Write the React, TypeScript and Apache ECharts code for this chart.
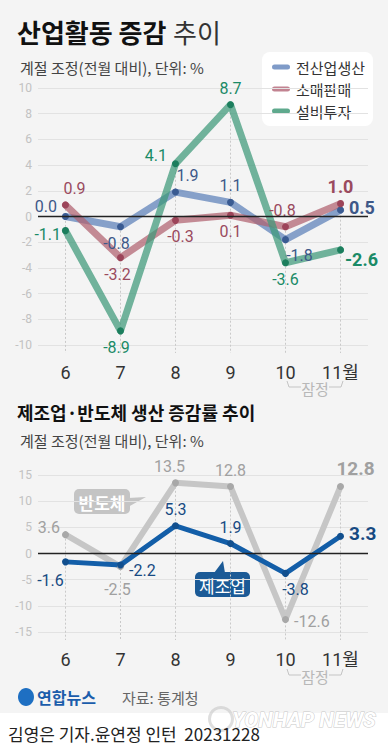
import React, { useEffect, useRef } from "react";
import * as echarts from "echarts";

const months = ["6", "7", "8", "9", "10", "11월"];
const industrial = [0.0, -0.8, 1.9, 1.1, -1.8, 0.5];
const retail = [0.9, -3.2, -0.3, 0.1, -0.8, 1.0];
const investment = [-1.1, -8.9, 4.1, 8.7, -3.6, -2.6];
const semiconductor = [3.6, -2.5, 13.5, 12.8, -12.6, 12.8];
const manufacturing = [-1.6, -2.2, 5.3, 1.9, -3.8, 3.3];
const seriesNames1 = ["전산업생산", "소매판매", "설비투자"];

// label placement styles
const indPos: any[] = [["left", [0, -10]], ["bottom", [-4, 0]], ["top", [12, 0]], ["top", [0, 0]], ["bottom", [14, -1]], ["right", [0, -3]]];
const retPos: any[] = [["top", [9, 0]], ["bottom", [-3, 0]], ["bottom", [5, 0]], ["bottom", [0, 0]], ["top", [-3, 0]], ["top", [0, 0]]];
const invPos: any[] = [["left", [4, 4]], ["bottom", [-4, 0]], ["left", [0, -8]], ["top", [0, 0]], ["bottom", [0, 0]], ["right", [-4, 10]]];
const semPos: any[] = [["left", [3, -7]], ["bottom", [-3, 6]], ["top", [-6, 0]], ["top", [0, 0]], ["right", [0, 2]], ["top", [15, 0]]];
const manPos: any[] = [["bottom", [-15, 2]], ["right", [0, 5]], ["top", [0, 0]], ["top", [0, 0]], ["bottom", [10, 0]], ["right", [0, -3]]];

const FONT = '"Noto Sans CJK KR", "Noto Sans", sans-serif';
const NUM = 'Roboto, "Noto Sans CJK KR", sans-serif';

function mkData(values: number[], pos: any[], color: string, lastSize = 18) {
  return values.map((v, i) => {
    const last = i === values.length - 1;
    return {
      value: v,
      label: {
        show: true,
        position: pos[i][0],
        offset: pos[i][1],
        formatter: () => v.toFixed(1),
        color,
        fontFamily: NUM,
        fontSize: last ? lastSize : 16,
        fontWeight: last ? "bold" : "normal",
      },
    };
  });
}

function lineSeries(name: string, values: number[], pos: any[], lineColor: string, dotColor: string, labelColor: string, idx: number, width: number, opacity: number, lastSize = 18) {
  return {
    type: "line",
    name,
    xAxisIndex: idx,
    yAxisIndex: idx,
    data: mkData(values, pos, labelColor, lastSize),
    symbol: "circle",
    symbolSize: 7,
    itemStyle: { color: dotColor },
    lineStyle: { color: lineColor, width, opacity, cap: "round", join: "round" },
    z: 3,
  };
}

function dropSeries(idx: number, lists: number[][], yMin: number) {
  const data = months.map((_, i) => [i, Math.max(...lists.map((l) => l[i]))]);
  return {
    type: "custom",
    xAxisIndex: idx,
    yAxisIndex: idx,
    silent: true,
    z: 1,
    encode: { x: 0, y: 1 },
    data,
    renderItem: (params: any, api: any) => {
      const top = api.coord([api.value(0), api.value(1)]);
      const bot = api.coord([api.value(0), yMin]);
      return {
        type: "line",
        shape: { x1: top[0], y1: top[1], x2: top[0], y2: bot[1] + 8 },
        style: { stroke: "#c9c9c9", lineWidth: 1, lineDash: [2, 2] },
      };
    },
    markLine: {
      silent: true,
      symbol: ["none", "none"],
      label: { show: false },
      lineStyle: { color: "#222", width: 1.3, type: "solid" },
      data: [{ yAxis: 0 }],
    },
  };
}

function xAxis(idx: number) {
  return {
    type: "category",
    gridIndex: idx,
    data: months,
    position: "bottom",
    axisLine: { show: false },
    axisTick: { show: false },
    axisLabel: { fontSize: 18, color: "#333", margin: 18, fontFamily: NUM },
    splitLine: { show: false },
  };
}

function yAxis(idx: number, min: number, max: number, interval: number) {
  return {
    type: "value",
    gridIndex: idx,
    min,
    max,
    interval,
    axisLine: { show: false },
    axisTick: { show: false },
    axisLabel: { fontSize: 12, color: "#c2c2c2", margin: 6, fontFamily: NUM },
    splitLine: { lineStyle: { color: "#e2e2e2", width: 1 } },
  };
}

function bracket(y: number) {
  return [
    { type: "polyline", shape: { points: [[287, y - 6], [289, y], [301, y]] }, style: { stroke: "#c4c4c4", lineWidth: 1, fill: null } },
    { type: "polyline", shape: { points: [[329, y], [341, y], [343, y - 6]] }, style: { stroke: "#c4c4c4", lineWidth: 1, fill: null } },
    { type: "text", x: 315, y: y + 1, style: { text: "잠정", fontSize: 15, fill: "#b8b8b8", fontFamily: FONT, align: "center", verticalAlign: "middle" } },
  ];
}

function txt(text: string, x: number, y: number, size: number, fill: string, extra: any = {}) {
  return { type: "text", x, y, style: { text, fontSize: size, fill, fontFamily: FONT, verticalAlign: "middle", align: "left", ...extra } };
}

export default function App() {
  const ref = useRef<HTMLDivElement>(null);
  useEffect(() => {
    const chart = echarts.init(ref.current!, null, { renderer: "svg" });
    const legendColors = ["#7f9bc8", "#c28391", "#5fa98d"];
    const legendItems: any[] = [];
    seriesNames1.forEach((n, i) => {
      legendItems.push({ type: "rect", shape: { x: 272, y: 64.5 + i * 22, width: 18, height: 5, r: 2.5 }, style: { fill: legendColors[i] } });
      legendItems.push(txt(n, 296, 67 + i * 22, 15, "#333"));
    });
    chart.setOption({
      animation: false,
      grid: [
        { left: 38, right: 20, top: 88, height: 257 },
        { left: 38, right: 20, top: 475, height: 157 },
      ],
      xAxis: [xAxis(0), xAxis(1)],
      yAxis: [yAxis(0, -10, 10, 2), yAxis(1, -15, 15, 5)],
      series: [
        dropSeries(0, [industrial, retail, investment], -10),
        lineSeries(seriesNames1[0], industrial, indPos, "#5b7fb8", "#3a5b92", "#3d5888", 0, 7, 0.72),
        lineSeries(seriesNames1[1], retail, retPos, "#b0616f", "#9c4459", "#9a4a5e", 0, 7, 0.72),
        lineSeries(seriesNames1[2], investment, invPos, "#3d9878", "#1c7e5d", "#1a8a66", 0, 7, 0.72),
        dropSeries(1, [semiconductor, manufacturing], -15),
        lineSeries("반도체", semiconductor, semPos, "#c6c6c6", "#a8a8a8", "#a0a0a0", 1, 6, 1, 19),
        lineSeries("제조업", manufacturing, manPos, "#135ea8", "#114f8e", "#174a82", 1, 5, 1, 19),
      ],
      graphic: [
        txt("산업활동 증감", 17, 31, 26, "#111", { fontWeight: "bold" }),
        txt("추이", 173, 31, 26, "#333"),
        txt("계절 조정(전월 대비), 단위: %", 20, 67, 15, "#444"),
        { type: "rect", shape: { x: 262, y: 52, width: 111, height: 74, r: 8 }, style: { fill: "#fff" } },
        ...legendItems,
        ...bracket(387),
        txt("제조업·반도체 생산 증감률 추이", 17, 412, 18, "#111", { fontWeight: "bold" }),
        txt("계절 조정(전월 대비), 단위: %", 20, 440, 15, "#444"),
        { type: "polygon", shape: { points: [[128, 498], [146, 497], [128, 507]] }, style: { fill: "#c4c4c4" } },
        { type: "rect", shape: { x: 74, y: 489, width: 56, height: 25, r: 5 }, style: { fill: "#c4c4c4" } },
        txt("반도체", 102, 502, 17, "#fff", { align: "center", fontWeight: "bold" }),
        { type: "polygon", shape: { points: [[214, 573], [225, 573], [223, 561]] }, style: { fill: "#1b5a96" } },
        { type: "rect", shape: { x: 195, y: 572, width: 55, height: 25, r: 5 }, style: { fill: "#1b5a96" } },
        txt("제조업", 222.5, 585, 17, "#fff", { align: "center" }),
        ...bracket(675),
        { type: "ellipse", shape: { cx: 26, cy: 697, rx: 8, ry: 9 }, style: { fill: "#1e6fc2" } },
        txt("연합뉴스", 37, 697, 16, "#1b5dab", { fontWeight: "bold" }),
        txt("자료: 통계청", 122, 697, 15, "#666"),
        { type: "ring", shape: { cx: 221, cy: 719, r: 13, r0: 10 }, style: { fill: "rgba(190,190,190,0.5)" } },
        txt("YONHAP NEWS", 232, 720, 21, "#fff", { fontStyle: "italic", fontWeight: "bold", stroke: "#c8c8c8", lineWidth: 1, fontFamily: "Roboto, sans-serif" }),
        txt("김영은 기자.윤연정 인턴  20231228", 8, 733, 17, "#222"),
      ],
    });
    return () => chart.dispose();
  }, []);
  return (
    <div
      ref={ref}
      style={{
        position: "fixed",
        left: 0,
        top: 0,
        width: 388,
        height: 750,
        background: "linear-gradient(to bottom, #f4f4f4 0, #f4f4f4 713px, #ffffff 713px)",
      }}
    />
  );
}
